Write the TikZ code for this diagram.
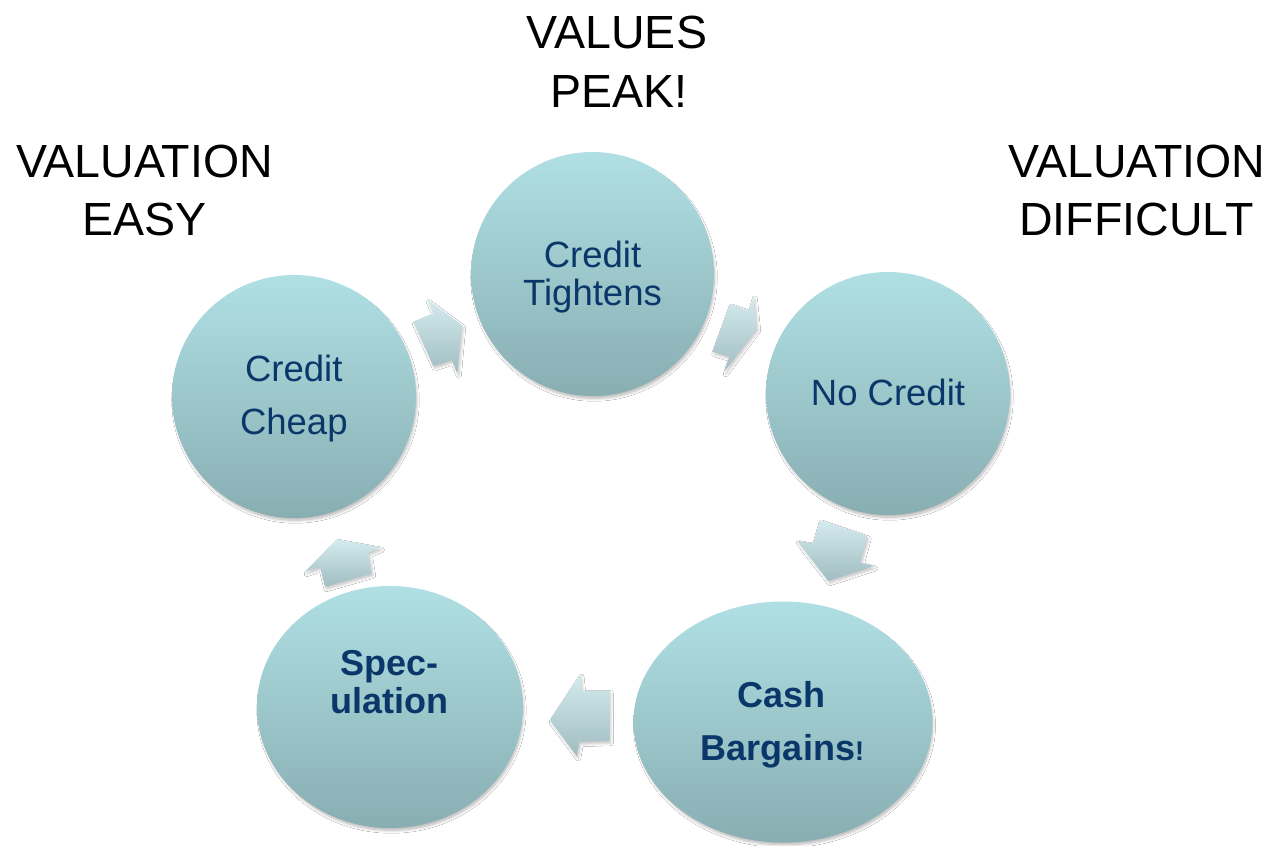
\documentclass[tikz,border=0pt]{standalone}
\usepackage{fontspec}
\setmainfont{Liberation Sans}
\usetikzlibrary{shapes.geometric,shadows.blur}
\definecolor{navy}{RGB}{10,55,105}
\definecolor{bubtop}{RGB}{176,224,228}
\definecolor{bubbot}{RGB}{136,174,178}
\definecolor{arrtop}{RGB}{212,235,239}
\definecolor{arrbot}{RGB}{160,189,193}
\begin{document}
\begin{tikzpicture}[x=1pt,y=-1pt,
  bubble/.style={ellipse, inner sep=0pt, draw=none, top color=bubtop, bottom color=bubbot,
    blur shadow={shadow xshift=1.5pt, shadow yshift=-3.5pt, shadow blur radius=3pt, shadow blur steps=8, shadow opacity=30, shadow scale=0.99}},
  lbl/.style={anchor=base, text=navy, font=\fontsize{36.5}{40}\selectfont, inner sep=0pt},
  blbl/.style={anchor=base, text=navy, font=\fontsize{36}{40}\selectfont\bfseries, inner sep=0pt},
  head/.style={anchor=base, text=black, font=\fontsize{46.5}{50}\selectfont, inner sep=0pt},
  blockarrow/.style={draw=none, top color=arrtop, bottom color=arrbot,
    blur shadow={shadow xshift=1.5pt, shadow yshift=-2.5pt, shadow blur radius=2.5pt, shadow opacity=22}}]
\useasboundingbox (0,0) rectangle (1272,846);
\fill[white] (0,0) rectangle (1272,846);

% circles
\node[bubble, minimum width=243pt, minimum height=244pt] (tight)  at (592.5,274) {};
\node[bubble, minimum width=244pt, minimum height=243pt] (nocred) at (888,393.5) {};
\node[bubble, minimum width=299pt, minimum height=241pt] (cash)   at (783,722) {};
\node[bubble, minimum width=266pt, minimum height=242pt] (spec)   at (390,707) {};
\node[bubble, minimum width=244pt, minimum height=243pt] (cheap)  at (294,396.5) {};

% block arrows
\path[blockarrow] (427.3,299.3) -- (461.7,325) -- (457.3,373.3) -- (451.7,360) -- (433.3,366) -- (413.3,321.7) -- (433.3,313.3) -- cycle;
\path[blockarrow] (730,304) -- (749.3,310.7) -- (753.3,296) -- (756.7,328.3) -- (724.3,371.7) -- (729.3,356.7) -- (712.7,351.7) -- cycle;
\path[blockarrow] (820,520) -- (867.3,536) -- (860,562.7) -- (874,566) -- (828.3,580.7) -- (797.3,540.7) -- (813.3,543.3) -- cycle;
\path[blockarrow] (609.3,690.7) -- (581.7,690.7) -- (580,674) -- (550,720) -- (576.7,756) -- (579.3,741.7) -- (609.3,740.7) -- cycle;
\path[blockarrow] (336.7,539.3) -- (380.7,547.3) -- (368.3,552.7) -- (371.7,573.3) -- (325,586.7) -- (320,566.7) -- (305,571.7) -- cycle;

% circle texts
\node[lbl] (t1a) at (592.5,267.7) {Credit};
\node[lbl] (t1b) at (592.5,305.7) {Tightens};
\node[lbl] (t2)  at (888,405.3) {No Credit};
\node[blbl] (t3a) at (781.5,707.7) {Cash};
\node[blbl] (t3b) at (782.5,760) {Bargains{\fontsize{27}{30}\selectfont!}};
\node[blbl] (t4a) at (389.5,675) {Spec-};
\node[blbl] (t4b) at (389.5,713.3) {ulation};
\node[lbl] (t5a) at (293.8,381.7) {Credit};
\node[lbl] (t5b) at (293.8,434.3) {Cheap};

% headings
\node[head] (h1a) at (617,48.3) {VALUES};
\node[head] (h1b) at (619,107) {PEAK!};
\node[head] (h2a) at (144.5,177.3) {VALUATION};
\node[head] (h2b) at (144.3,235) {EASY};
\node[head] (h3a) at (1137,177.3) {VALUATION};
\node[head] (h3b) at (1136.5,235) {DIFFICULT};
\end{tikzpicture}
\end{document}
